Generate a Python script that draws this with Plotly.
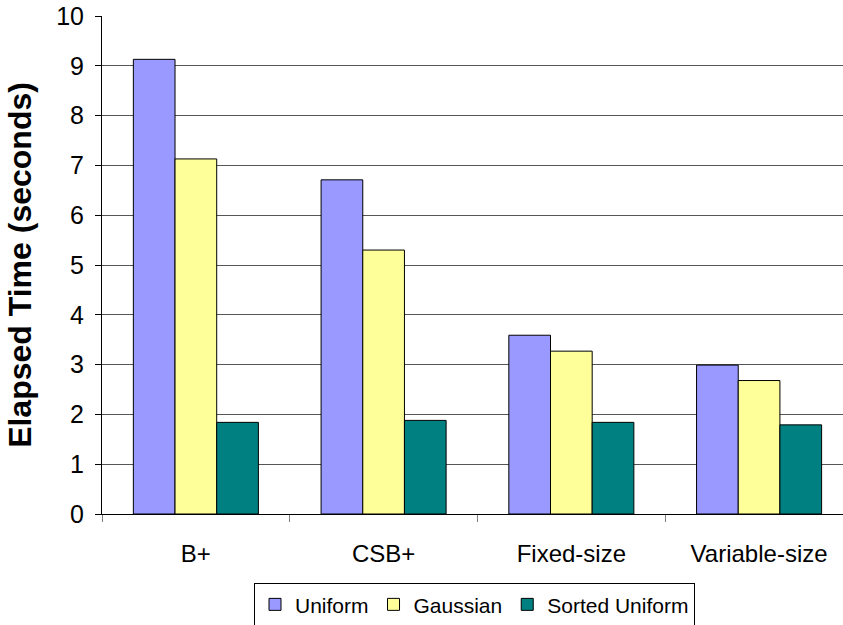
import plotly.graph_objects as go

categories = ["B+", "CSB+", "Fixed-size", "Variable-size"]
uniform = [9.13, 6.71, 3.59, 2.99]
gaussian = [7.13, 5.30, 3.27, 2.68]
sorted_uniform = [1.84, 1.88, 1.84, 1.79]

series = [
    ("Uniform", uniform, "#9999FF"),
    ("Gaussian", gaussian, "#FFFF99"),
    ("Sorted Uniform", sorted_uniform, "#008080"),
]

fig = go.Figure()
for name, vals, color in series:
    fig.add_trace(go.Bar(
        x=categories, y=vals, name=name,
        marker=dict(color=color, line=dict(color="#000000", width=1)),
    ))

font_family = "Liberation Sans, Arial, sans-serif"
fig.update_layout(
    width=843, height=625,
    margin=dict(l=102, r=0, t=16, b=111, autoexpand=False),
    paper_bgcolor="white", plot_bgcolor="white",
    barmode="group", bargap=0.334, bargroupgap=0,
    font=dict(family=font_family, color="#000000", size=24),
    showlegend=True,
    legend=dict(
        orientation="h", x=0.5027, xanchor="center", y=-0.139, yanchor="top",
        bordercolor="#000000", borderwidth=1, font=dict(size=21),
        itemwidth=30, tracegroupgap=0,
    ),
    xaxis=dict(
        range=[-0.5, 3.447], showline=True, linecolor="#000000", linewidth=1,
        ticks="outside", tickson="boundaries", ticklen=7, tickcolor="#808080",
        tickfont=dict(size=24), showgrid=False, ticklabelstandoff=18,
        automargin=False,
    ),
    yaxis=dict(
        range=[0, 10], dtick=1, showline=True, linecolor="#000000", linewidth=1,
        ticks="outside", ticklen=6, tickcolor="#000000",
        showgrid=True, gridcolor="#555555", gridwidth=1,
        tickfont=dict(size=25), zeroline=False, ticklabelstandoff=6,
        automargin=False,
        title=dict(text="<b>Elapsed Time (seconds)</b>", font=dict(size=32), standoff=14),
    ),
)

fig.write_html("out.html")
